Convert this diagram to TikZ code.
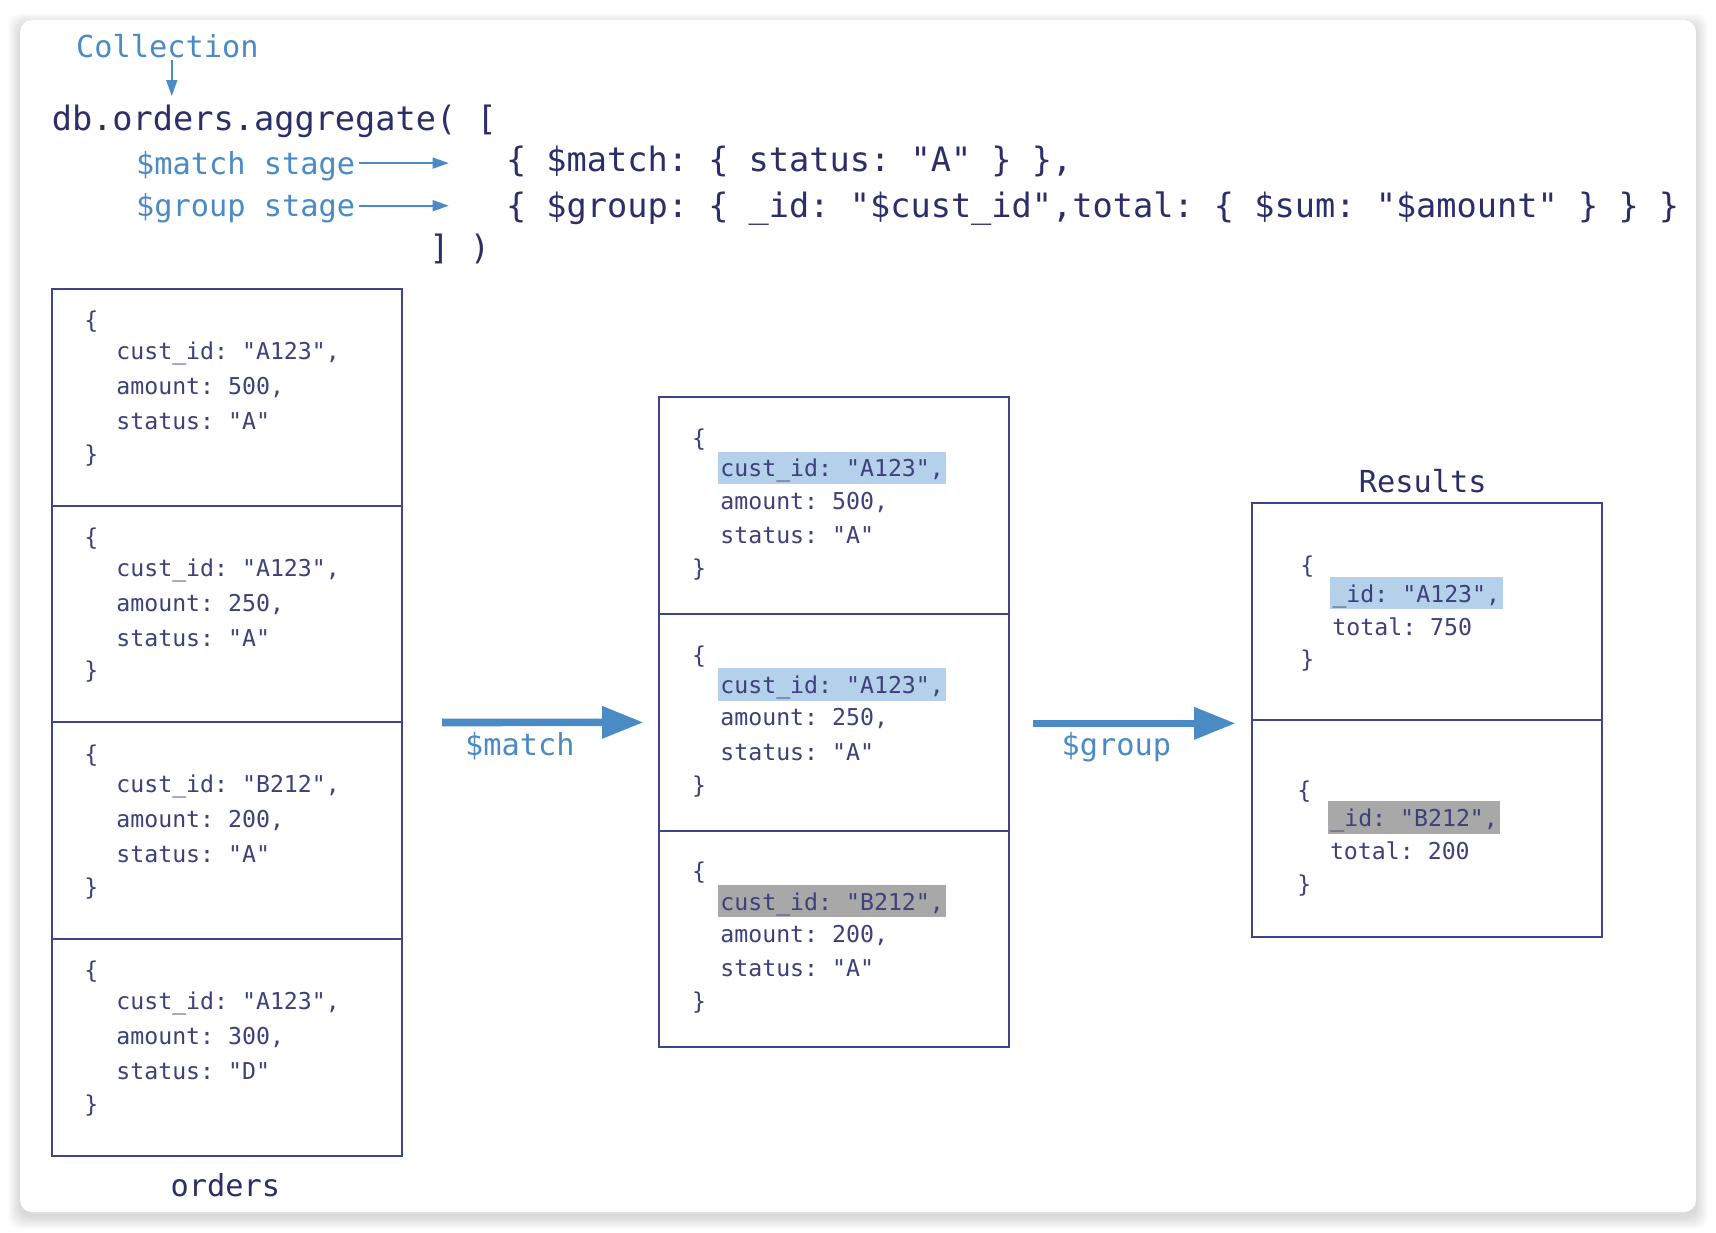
\documentclass[tikz,border=0pt]{standalone}
\usepackage{fontspec}
\setmonofont{DejaVu Sans Mono}
\usetikzlibrary{arrows.meta}
\definecolor{navy}{RGB}{44,46,106}
\definecolor{boxtext}{RGB}{62,64,122}
\definecolor{mblue}{RGB}{74,139,197}
\definecolor{bordercol}{RGB}{62,70,135}
\definecolor{hlblue}{RGB}{180,208,234}
\definecolor{hlgray}{RGB}{168,168,168}
\newcommand\orderdoc[5]{%
  \node[doc] (#1b) at (84,#2+30.6) {\{};
  \node[doc] (#1c) at (116,#2+61.3) {cust\_id: "#3",};
  \node[doc] (#1a) at (116,#2+96.3) {amount: #4,};
  \node[doc] (#1s) at (116,#2+131.3) {status: "#5"};
  \node[doc] (#1e) at (84,#2+164.2) {\}};
}
\newcommand\matchdoc[5]{%
  \node[doc] (#1b) at (691.7,#2+40) {\{};
  \node[doc,hl=#5] (#1c) at (717.6,#2+70.5) {cust\_id: "#3",};
  \node[doc] (#1a) at (720,#2+102.7) {amount: #4,};
  \node[doc] (#1s) at (720,#2+137) {status: "A"};
  \node[doc] (#1e) at (691.7,#2+170) {\}};
}
\begin{document}
\begin{tikzpicture}[x=0.5pt,y=-0.5pt,
  code/.style={font=\fontsize{16.8}{20}\selectfont\ttfamily, text=navy, inner sep=0pt, anchor=west, text height=13.75pt, text depth=1.75pt},
  lbl/.style={font=\fontsize{15.15}{18}\selectfont\ttfamily, text=mblue, inner sep=0pt, text height=12.5pt, text depth=1.4pt},
  ttl/.style={font=\fontsize{15.15}{18}\selectfont\ttfamily, text=navy, inner sep=0pt, text height=12.5pt, text depth=1.4pt},
  doc/.style={font=\fontsize{11.6}{14}\selectfont\ttfamily, text=boxtext, inner sep=0pt, anchor=west, text height=9.85pt, text depth=0.8pt},
  hl/.style={fill=#1, inner xsep=1.2pt, inner ysep=2.7pt},
  column/.style={draw=bordercol, line width=1pt, minimum width=175pt, inner sep=0pt},
  divider/.style={draw=bordercol, line width=1pt},
  thinarrow/.style={draw=mblue, line width=0.8pt, -{Triangle[length=8pt,width=5.5pt]}},
  bigarrow/.style={draw=mblue, line width=3.85pt, -{Triangle[length=20.8pt,width=15.3pt]}},
]
\useasboundingbox (0,0) rectangle (1716,1232);
\fill[white] (0,0) rectangle (1716,1232);
% card shadow
\foreach \i in {1,...,12}
  \fill[black, opacity=0.011, rounded corners=6pt] (20-\i,20-\i+5) rectangle (1696+\i,1212+\i+5);
\fill[white, rounded corners=6pt] (20,20) rectangle (1696,1212);

% header
\node[lbl, anchor=center] (coll) at (167.4,46) {Collection};
\coordinate (collend) at (171.8,96);
\draw[thinarrow] (coll.south -| collend) -- (collend);
\node[code] (agg) at (51.4,118.2) {db.orders.aggregate( [};
\node[lbl, anchor=west] (mstage) at (135.7,163.1) {\$match stage};
\node[lbl, anchor=west] (gstage) at (135.7,205.7) {\$group stage};
\coordinate (mend) at (448.7,163.1);
\coordinate (gend) at (448.7,205.7);
\draw[thinarrow] ([xshift=2pt]mstage.east) -- (mend);
\draw[thinarrow] ([xshift=2pt]gstage.east) -- (gend);
\node[code] (mline) at (505.6,159.8) {\{ \$match: \{ status: "A" \} \},};
\node[code] (gline) at (505.6,205.7) {\{ \$group: \{ \_id: "\$cust\_id",total: \{ \$sum: "\$amount" \} \} \}};
\node[code] (close) at (429,247.3) {] )};

% orders column
\node[column, minimum height=433.35pt] (orders) at (226.5,722.4) {};
\foreach \yy in {505.7,722.4,939.1}
  \draw[divider] (orders.west |- 0,\yy) -- (orders.east |- 0,\yy);
\orderdoc{oa}{289}{A123}{500}{A}
\orderdoc{ob}{505.7}{A123}{250}{A}
\orderdoc{oc}{722.4}{B212}{200}{A}
\orderdoc{od}{939.1}{A123}{300}{D}
\node[ttl] (orderslbl) at (225.4,1185.2) {orders};

% matched column
\node[column, minimum height=325.05pt] (matched) at (833.5,722.35) {};
\foreach \yy in {614,830.7}
  \draw[divider] (matched.west |- 0,\yy) -- (matched.east |- 0,\yy);
\matchdoc{ma}{397.3}{A123}{500}{hlblue}
\matchdoc{mb}{614}{A123}{250}{hlblue}
\matchdoc{mc}{830.7}{B212}{200}{hlgray}

% results column
\node[column, minimum height=216.7pt] (results) at (1427,720.1) {};
\draw[divider] (results.west |- 0,720.1) -- (results.east |- 0,720.1);
\node[ttl] (resultslbl) at (1422.7,481.5) {Results};
\node[doc] (rab) at (1300,564.7) {\{};
\node[doc,hl=hlblue] (raid) at (1329.7,593.2) {\_id: "A123",};
\node[doc] (rat) at (1332,626) {total: 750};
\node[doc] (rae) at (1300,658.8) {\}};
\node[doc] (rbb) at (1297,789) {\{};
\node[doc,hl=hlgray] (rbid) at (1327.5,817.5) {\_id: "B212",};
\node[doc] (rbt) at (1329.6,850.3) {total: 200};
\node[doc] (rbe) at (1297,883.2) {\}};

% stage arrows
\draw[bigarrow] ([xshift=19.75pt]orders.east) -- ([xshift=-6.95pt]matched.west);
\node[lbl] (matchlbl) at (519.8,744.2) {\$match};
\draw[bigarrow] ([xshift=11.75pt,yshift=-0.5pt]matched.east) -- ([xshift=-7.65pt,yshift=-0.5pt]results.west |- matched.east);
\node[lbl] (grouplbl) at (1116.3,744.2) {\$group};
\end{tikzpicture}
\end{document}
